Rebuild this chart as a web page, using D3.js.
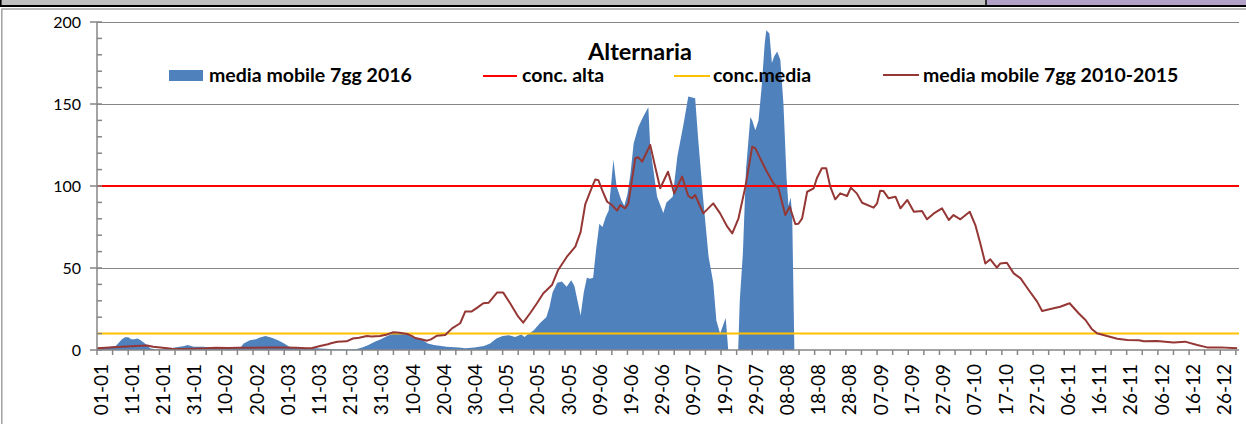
<!DOCTYPE html>
<meta charset="utf-8">
<style>
 body { margin: 0; background: #fff; }
 svg { display: block; }
 text { font-family: Lato, "Open Sans", sans-serif; fill: #000; }
 .grid line { stroke: #868686; stroke-width: 1.2px; }
 .axis line, .axis path { stroke: #868686; stroke-width: 1.5px; fill: none; }
 .legend text { font-weight: 700; font-size: 19.5px; }
</style>
<body>
<div id="chart"></div>
<script src="https://cdn.jsdelivr.net/npm/d3@7"></script>
<script>
(function(){

  var width = 1246, height = 424;

  // x tick labels (one every 10 days, 2016)
  var tickLabels = ["01-01","11-01","21-01","31-01","10-02","20-02","01-03","11-03","21-03","31-03",
    "10-04","20-04","30-04","10-05","20-05","30-05","09-06","19-06","29-06","09-07","19-07","29-07",
    "08-08","18-08","28-08","07-09","17-09","27-09","07-10","17-10","27-10","06-11","16-11","26-11",
    "06-12","16-12","26-12"];
  var tickDays = tickLabels.map(function(d, i) { return i * 10; });

  // media mobile 7gg 2016 : day of year, value
  var days2016 = [0,3,6,8,9,10,11,12,13,14,16,17,19,22,25,28,29,31,34,37,40,43,46,47,49,51,52,54,56,58,60,62,65,70,73,76,80,83,85,87,89,91,93,95,98,100,102,104,106,108,112,116,118,121,124,126,128,130,132,134,136,137,138,140,142,144,145,146,147.5,149,150.5,152,153,154,155,156,157,158,159,160,161,162,163,164,165.5,166.5,168,169,170,171,172,173.5,175,176.7,177.3,179.5,181.5,182.5,184.5,186,188,189.5,191.7,192.7,194.3,196,197.5,198.5,199.7,201.5,202.3,205.5,206,207,208,209.4,210,211,212,213,214,214.5,215.5,216.3,217,218,219,220,221,221.6,222.3,222.8,223.5];
  var vals2016 = [1,1.5,2.5,6.5,7.8,7.8,6.5,6.5,7,6,3,1,0.3,0.5,1.5,2.5,3,2,2,1.5,1,1,1.5,4,6,6.5,7.5,8.5,7.5,6,4,1.5,1,1,0.8,0.5,0.3,0.5,1.5,3,5,6.5,8.5,10,10,9,7,6.5,4,3,2,1.5,1,1.5,2.5,4,7,8.5,9,8,9.5,8,9.5,12,16.5,20,26,35,41,41.7,38.6,42.5,39,30,21,35,44,43.5,44,62,77,75,81,85,116,100,91.5,88,95,108,126,136,142,148,124,93.5,83.5,90,93.5,118,138,154.5,153.5,128,91.5,57,41,18,10,19.5,0,0,30,59,110,142,140,134,140,160,187,195,193,175,179,182,177,150,105,88,93,83,0];

  // media mobile 7gg 2010-2015 : day of year, value
  var daysAvg = [0,4,8,11,14,16,18,21,24,28,31,35,38,42,45,50,55,60,64,67,69,71.5,74,75,77,80,82,84,86.5,88,90.7,93,95,97,99.4,101,102,103.5,105.8,107,109,111.6,113.8,116.4,118,120,122,123.8,125.5,128.2,130.2,132.4,135,136.6,138.8,141,143,145.8,147.8,150.6,153.3,155,156.5,158.7,159.7,160.7,162,163.5,165,166.7,167.7,169.3,170.3,172.5,173.5,174.7,177.3,179,180.5,183,185,187.5,189.5,190.7,191.7,194.3,197.5,199.7,202,203.6,205.6,207.8,210,211,212,214.7,216.8,218.4,220.6,222,223.8,224.8,226,227.6,229.7,230.7,232.3,233.7,235,236.6,238.2,240.4,241.6,243.5,245.2,248.9,250,251,252,253.7,255.9,257.5,259.7,261.8,264.4,266,268.2,270.8,273,274.5,276.7,279.7,281.5,283.1,284.7,286.3,288.4,289.5,291.6,293.8,296,298.6,301.3,302.9,306.6,308.7,311.7,314.6,316.8,318.9,320.5,323.7,327,330.2,333.9,335.5,339.7,345,348.7,352.6,355.8,360,365.4];
  var valsAvg = [1,1.5,2,2.3,2.6,2.7,2,1.4,0.7,0.6,0.8,1,1.4,1.2,1.3,1.4,1.5,1.6,1.3,1,1.2,2.4,3.5,4.1,5,5.3,7,7.5,8.5,8.3,8.5,9.5,10.8,10.5,9.8,8.5,7.3,6.7,5.7,6.5,8.7,9.1,13.2,16.3,23.4,23.4,26,28.5,28.8,35,35,28.5,20.3,16.7,22.4,28.5,34.5,39.6,48.8,56.9,63,72,89,99.6,104,103.5,97,90.4,88.4,85,88.4,86.4,89.4,116.9,117.5,114.8,125,110.8,98.6,108.7,95.5,105.7,93.9,92.5,94.5,83.3,89.4,83.3,75.2,71.1,80.3,99.6,124,123,119,108.7,101.6,98.6,82.3,87.4,76.8,77,80.3,96.5,98.6,104.7,110.8,110.8,99.6,91.9,95.5,93.9,99,95.5,89.8,86.8,89.4,97.1,97,92.5,93.5,86.4,91.5,84.3,84.8,79.7,83.3,86.4,79.3,82.3,79.7,84.3,76.2,65,52.8,55.3,50.2,52.8,53.2,46.7,43.7,36.6,29.5,23.8,25.4,26.4,28.5,22.4,18.3,12.6,10.2,8.5,6.9,6.1,6,5.3,5.5,4.5,5.1,3,1.6,1.6,1];

  var concAlta = 100;
  var concMedia = 10;
  var yTicks = [0, 50, 100, 150, 200];

  var svg = d3.select("#chart").append("svg")
      .attr("width", width).attr("height", height);

  // spreadsheet strip at the top and chart border
  svg.append("rect").attr("x", 0).attr("y", 0).attr("width", width).attr("height", 6).attr("fill", "#c0c0c0");
  svg.append("rect").attr("x", 987).attr("y", 0).attr("width", width - 987).attr("height", 6).attr("fill", "#b1a0c7");
  svg.append("line").attr("x1", 0).attr("x2", width).attr("y1", 6).attr("y2", 6).attr("stroke", "#000").attr("stroke-width", 2);
  svg.append("line").attr("x1", 986).attr("x2", 986).attr("y1", 0).attr("y2", 7).attr("stroke", "#000").attr("stroke-width", 1.5);
  svg.append("line").attr("x1", 0.8).attr("x2", 0.8).attr("y1", 0).attr("y2", 7).attr("stroke", "#000").attr("stroke-width", 1.6);
  svg.append("line").attr("x1", 1.5).attr("x2", width).attr("y1", 9).attr("y2", 9).attr("stroke", "#a0a0a0").attr("stroke-width", 1.5);
  svg.append("line").attr("x1", 1.8).attr("x2", 1.8).attr("y1", 9).attr("y2", height).attr("stroke", "#a0a0a0").attr("stroke-width", 1.5);

  var x = d3.scaleLinear().domain([0, 366]).range([97, 1239]);
  var y = d3.scaleLinear().domain([0, 200]).range([350, 22]);

  // gridlines
  svg.append("g").attr("class", "grid").selectAll("line")
    .data(yTicks.filter(function(d) { return d > 0; }))
    .enter().append("line")
      .attr("x1", x(0)).attr("x2", x(366))
      .attr("y1", function(d) { return Math.round(y(d)) + 0.5; })
      .attr("y2", function(d) { return Math.round(y(d)) + 0.5; });

  // 2016 area
  var area = d3.area()
      .x(function(d) { return x(d[0]); })
      .y0(y(0))
      .y1(function(d) { return y(d[1]); });
  svg.append("path")
      .datum(d3.zip(days2016, vals2016))
      .attr("fill", "#4f81bd")
      .attr("d", area);

  // thresholds
  svg.append("line").attr("x1", x(0)).attr("x2", x(366))
      .attr("y1", y(concAlta)).attr("y2", y(concAlta))
      .attr("stroke", "#ff0000").attr("stroke-width", 2);
  svg.append("line").attr("x1", x(0)).attr("x2", x(366))
      .attr("y1", y(concMedia)).attr("y2", y(concMedia))
      .attr("stroke", "#ffc000").attr("stroke-width", 2);

  // 2010-2015 moving average
  var line = d3.line()
      .x(function(d) { return x(d[0]); })
      .y(function(d) { return y(d[1]); });
  svg.append("path")
      .datum(d3.zip(daysAvg, valsAvg))
      .attr("fill", "none")
      .attr("stroke", "#953735")
      .attr("stroke-width", 2)
      .attr("stroke-linejoin", "round")
      .attr("d", line);

  // y axis
  var yAxis = svg.append("g").attr("class", "axis");
  yAxis.append("line").attr("x1", x(0)).attr("x2", x(0)).attr("y1", y(200)).attr("y2", y(0));
  yAxis.selectAll(".minor").data(d3.range(0, 201, 10)).enter().append("line")
      .attr("x1", x(0)).attr("x2", x(0) + 5)
      .attr("y1", function(d) { return y(d); }).attr("y2", function(d) { return y(d); });
  yAxis.selectAll(".major").data(yTicks).enter().append("line")
      .attr("x1", x(0) - 7).attr("x2", x(0))
      .attr("y1", function(d) { return y(d); }).attr("y2", function(d) { return y(d); });
  yAxis.selectAll("text").data(yTicks).enter().append("text")
      .attr("x", 81).attr("y", function(d) { return y(d); })
      .attr("dy", "0.35em")
      .attr("text-anchor", "end")
      .style("font-size", "16px")
      .text(function(d) { return d; });

  // x axis
  var xAxis = svg.append("g").attr("class", "axis");
  xAxis.append("line").attr("x1", x(0)).attr("x2", x(366)).attr("y1", y(0)).attr("y2", y(0));
  xAxis.selectAll(".tick").data(d3.range(0, 367, 5)).enter().append("line")
      .attr("x1", function(d) { return x(d); }).attr("x2", function(d) { return x(d); })
      .attr("y1", y(0)).attr("y2", y(0) + 5);
  xAxis.selectAll("text").data(tickLabels).enter().append("text")
      .attr("transform", function(d, i) { return "translate(" + x(tickDays[i]) + ",364) rotate(-90)"; })
      .attr("text-anchor", "end")
      .attr("dy", "0.56em")
      .style("font-size", "19px")
      .text(function(d) { return d; });

  // title and legend
  svg.append("text").attr("x", 640).attr("y", 60)
      .attr("text-anchor", "middle")
      .style("font-weight", 700).style("font-size", "23.5px")
      .text("Alternaria");

  var legend = svg.append("g").attr("class", "legend");
  legend.append("rect").attr("x", 169).attr("y", 70).attr("width", 34).attr("height", 11).attr("fill", "#4f81bd");
  legend.append("text").attr("x", 209).attr("y", 82).text("media mobile 7gg 2016");
  legend.append("line").attr("x1", 483).attr("x2", 517).attr("y1", 76).attr("y2", 76).attr("stroke", "#ff0000").attr("stroke-width", 2);
  legend.append("text").attr("x", 522).attr("y", 82).text("conc. alta");
  legend.append("line").attr("x1", 674).attr("x2", 710).attr("y1", 76).attr("y2", 76).attr("stroke", "#ffc000").attr("stroke-width", 2);
  legend.append("text").attr("x", 713).attr("y", 82).text("conc.media");
  legend.append("line").attr("x1", 883).attr("x2", 919).attr("y1", 75).attr("y2", 75).attr("stroke", "#953735").attr("stroke-width", 2);
  legend.append("text").attr("x", 923).attr("y", 82).text("media mobile 7gg 2010-2015");

})();
</script>
</body>
